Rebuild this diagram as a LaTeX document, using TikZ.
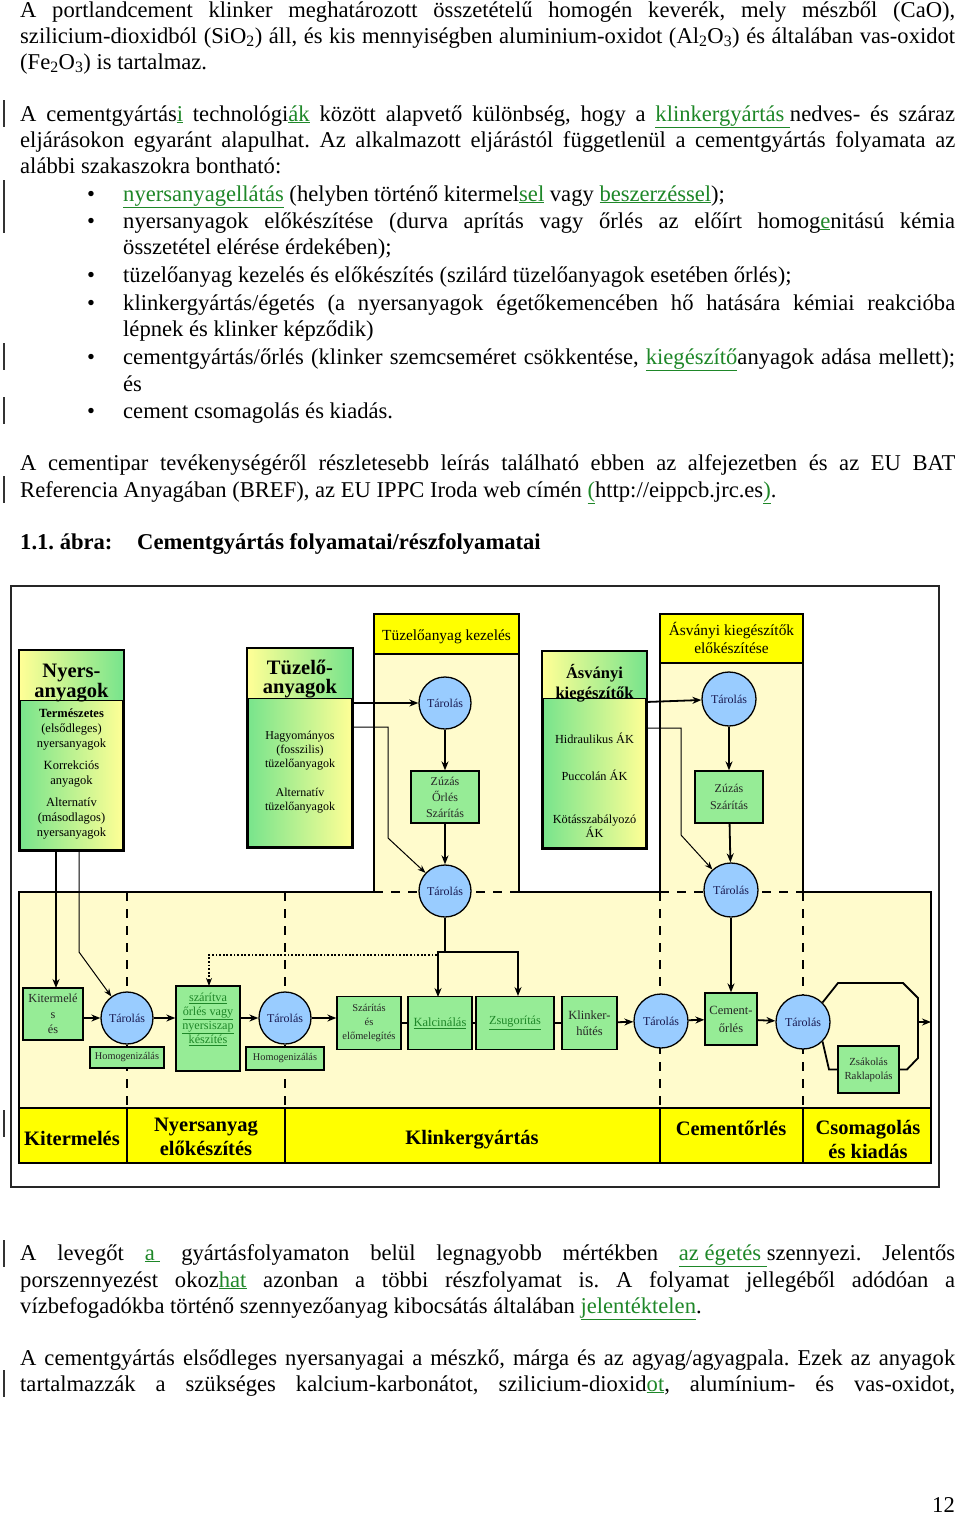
\documentclass[tikz,border=0pt]{standalone}
\usepackage{fontspec}
\setmainfont{Liberation Serif}
\usetikzlibrary{arrows.meta}
\definecolor{lnkg}{RGB}{30,135,40}
\definecolor{lyel}{RGB}{255,251,204}
\definecolor{hyel}{RGB}{255,255,0}
\definecolor{cblue}{RGB}{153,204,255}
\definecolor{bgreen}{RGB}{150,236,150}
\definecolor{gyel}{RGB}{255,255,150}
\definecolor{ggreen}{RGB}{120,228,140}
\definecolor{navy}{RGB}{25,25,80}
\newcommand{\fsz}[2]{\fontsize{#1}{#2}\selectfont}
\newcommand{\lnk}[1]{\textcolor{lnkg}{\underline{#1}}}
\frenchspacing
\tikzset{
 txt/.style={inner sep=0pt,anchor=base west,font=\fsz{22.6}{26}},
 circ/.style={circle,draw,line width=1.3pt,fill=cblue,minimum size=52pt,inner sep=0pt,font=\fsz{12}{14},text=navy},
 gbox/.style={draw,line width=1.3pt,fill=bgreen,inner sep=0pt,align=center,text=black!85},
 gradbox/.style={draw,line width=2.4pt,inner sep=0pt,left color=ggreen,right color=gyel},
 arr/.style={line width=1.8pt,-{Stealth[length=9pt,width=7pt]}},
 tarr/.style={line width=1pt,-{Stealth[length=8pt,width=6pt]}},
 thl/.style={line width=1.8pt},
 dsh/.style={line width=2.4pt,dash pattern=on 9pt off 8pt},
 dotln/.style={line width=1.8pt,dash pattern=on 1.8pt off 1.8pt},
 outerfr/.style={line width=2.8pt,black!85},
 bandtx/.style={font=\bfseries\fsz{20.5}{24},align=center,inner sep=0pt},
 chbar/.style={line width=1.2pt,black!80},
 smtx/.style={inner sep=0pt,align=center},
}
\begin{document}
\begin{tikzpicture}[x=1pt,y=-1pt]
\useasboundingbox (0,0) rectangle (960,1515);
\fill[white] (0,0) rectangle (960,1515);

% ---------- text above ----------
\node[txt] (p1) at (20,17) {\makebox[935pt][s]{A portlandcement klinker meghatározott összetételű homogén keverék, mely mészből (CaO),}};
\node[txt] (p2) at (20,43) {\makebox[935pt][s]{szilicium-dioxidból (SiO\textsubscript{2}) áll, és kis mennyiségben aluminium-oxidot (Al\textsubscript{2}O\textsubscript{3}) és általában vas-oxidot}};
\node[txt] (p3) at (20,69) {(Fe\textsubscript{2}O\textsubscript{3}) is tartalmaz.};
\node[txt] (p4) at (20,121) {\makebox[935pt][s]{A cementgyártás\lnk{i} technológi\lnk{ák} között alapvető különbség, hogy a \lnk{klinkergyártás\ }nedves- és száraz}};
\node[txt] (p5) at (20,147) {\makebox[935pt][s]{eljárásokon egyaránt alapulhat. Az alkalmazott eljárástól függetlenül a cementgyártás folyamata az}};
\node[txt] (p6) at (20,173) {alábbi szakaszokra bontható:};
\node[txt,anchor=base] (d1) at (91,201) {•};
\node[txt] (q1) at (123,201) {\lnk{nyersanyagellátás} (helyben történő kitermel\lnk{sel} vagy \lnk{beszerzéssel});};
\node[txt,anchor=base] (d2) at (91,228) {•};
\node[txt] (q2) at (123,228) {\makebox[832pt][s]{nyersanyagok előkészítése (durva aprítás vagy őrlés az előírt homog\lnk{e}nitású kémia}};
\node[txt] (q2b) at (123,254) {összetétel elérése érdekében);};
\node[txt,anchor=base] (d3) at (91,282) {•};
\node[txt] (q3) at (123,282) {tüzelőanyag kezelés és előkészítés (szilárd tüzelőanyagok esetében őrlés);};
\node[txt,anchor=base] (d4) at (91,310) {•};
\node[txt] (q4) at (123,310) {\makebox[832pt][s]{klinkergyártás/égetés (a nyersanyagok égetőkemencében hő hatására kémiai reakcióba}};
\node[txt] (q4b) at (123,336) {lépnek és klinker képződik)};
\node[txt,anchor=base] (d5) at (91,364) {•};
\node[txt] (q5) at (123,364) {\makebox[832pt][s]{cementgyártás/őrlés (klinker szemcseméret csökkentése, \lnk{kiegészítő}anyagok adása mellett);}};
\node[txt] (q5b) at (123,391) {és};
\node[txt,anchor=base] (d6) at (91,418) {•};
\node[txt] (q6) at (123,418) {cement csomagolás és kiadás.};
\node[txt] (p7) at (20,470) {\makebox[935pt][s]{A cementipar tevékenységéről részletesebb leírás található ebben az alfejezetben és az EU BAT}};
\node[txt] (p8) at (20,497) {Referencia Anyagában (BREF), az EU IPPC Iroda web címén \lnk{(}http://eippcb.jrc.es\lnk{)}.};
\node[txt,font=\bfseries\fsz{22.6}{26}] (fg1) at (20,549) {1.1. ábra:};
\node[txt,font=\bfseries\fsz{22.6}{26}] (fg2) at (137,549) {Cementgyártás folyamatai/részfolyamatai};

% ---------- text below ----------
\node[txt] (r1) at (20,1260) {\makebox[935pt][s]{A levegőt \lnk{a\ } gyártásfolyamaton belül legnagyobb mértékben \lnk{az égetés\ }szennyezi. Jelentős}};
\node[txt] (r2) at (20,1287) {\makebox[935pt][s]{porszennyezést okoz\lnk{hat} azonban a többi részfolyamat is. A folyamat jellegéből adódóan a}};
\node[txt] (r3) at (20,1313) {vízbefogadókba történő szennyezőanyag kibocsátás általában \lnk{jelentéktelen}.};
\node[txt] (r4) at (20,1365) {\makebox[935pt][s]{A cementgyártás elsődleges nyersanyagai a mészkő, márga és az agyag/agyagpala. Ezek az anyagok}};
\node[txt] (r5) at (20,1391) {\makebox[935pt][s]{tartalmazzák a szükséges kalcium-karbonátot, szilicium-dioxid\lnk{ot}, alumínium- és vas-oxidot,}};
\node[txt,anchor=base east] (pg) at (955,1512) {12};

% change bars
\foreach \a/\b in {100/127,180/233,343/370,397/424,476/503,1110/1137,1240/1267,1370/1397}
  \draw[chbar] (4,\a) -- (4,\b);

% ---------- diagram background ----------
\fill[lyel] (19,892) -- (374,892) -- (374,614) -- (519,614) -- (519,892) -- (660,892) -- (660,614) -- (803,614) -- (803,892) -- (931,892) -- (931,1108) -- (19,1108) -- cycle;
\fill[hyel] (19,1108) rectangle (931,1163);
% dashed separators
\draw[dsh] (374,892) -- (519,892);
\draw[dsh] (660,892) -- (803,892);
\foreach \xx in {127,285,660,803} \draw[dsh] (\xx,892) -- (\xx,1108);
% solid borders
\draw[line width=2.4pt] (19,1163) -- (19,892) -- (374,892) -- (374,614) -- (519,614) -- (519,892) -- (660,892) -- (660,614) -- (803,614) -- (803,892) -- (931,892) -- (931,1163);
\draw[line width=2.6pt] (19,1108) rectangle (931,1163);
\foreach \xx in {127,285,660,803} \draw[line width=2.6pt] (\xx,1108) -- (\xx,1163);

% column headers
\node[draw,line width=2pt,fill=hyel,minimum width=145pt,minimum height=40pt,inner sep=0pt] (h1) at (446.5,634) {};
\node[smtx,font=\fsz{15.4}{18}] (h1t) at (446.5,637) {Tüzelőanyag kezelés};
\node[draw,line width=2pt,fill=hyel,minimum width=143pt,minimum height=49pt,inner sep=0pt] (h2) at (731.5,638.5) {};
\node[smtx,font=\fsz{15.4}{18}] (h2t) at (731.5,638) {Ásványi kiegészítők\\előkészítése};

% band labels
\node[bandtx] (bk1) at (72,1138) {Kitermelés};
\node[bandtx] (bk2) at (206,1137) {Nyersanyag\\előkészítés};
\node[bandtx] (bk3) at (472,1140) {Klinkergyártás};
\node[bandtx] (bk4) at (731,1128) {Cementőrlés};
\node[bandtx] (bk5) at (868,1139) {Csomagolás\\és kiadás};

% ---------- gradient input boxes ----------
\node[gradbox,minimum width=103pt,minimum height=199pt] (nyr) at (71.5,750.5) {};
\shade[left color=gyel,right color=ggreen] (20,651) rectangle (123,700);
\draw[line width=0.8pt] (20,700) -- (123,700);
\draw[line width=2.4pt] (nyr.north west) rectangle (nyr.south east);
\node[smtx,font=\bfseries\fsz{20.5}{20}] (nyrh) at (71.5,683) {Nyers-\\anyagok};
\node[smtx,font=\fsz{12.5}{15}] (nyrb) at (71.5,774) {\textbf{Természetes}\\(elsődleges)\\nyersanyagok\\[7pt]Korrekciós\\anyagok\\[7pt]Alternatív\\(másodlagos)\\nyersanyagok};

\node[gradbox,minimum width=104pt,minimum height=198pt] (tuz) at (300,748) {};
\shade[left color=gyel,right color=ggreen] (248,649) rectangle (352,698);
\draw[line width=0.8pt] (248,698) -- (352,698);
\draw[line width=2.4pt] (tuz.north west) rectangle (tuz.south east);
\node[smtx,font=\bfseries\fsz{20.5}{19}] (tuzh) at (300,679) {Tüzelő-\\anyagok};
\node[smtx,font=\fsz{12}{14}] (tuzb) at (300,772) {Hagyományos\\(fosszilis)\\tüzelőanyagok\\[15pt]Alternatív\\tüzelőanyagok};

\node[gradbox,minimum width=103pt,minimum height=196pt] (asv) at (594.5,750) {};
\shade[left color=gyel,right color=ggreen] (543,652) rectangle (646,698);
\draw[line width=0.8pt] (543,698) -- (646,698);
\draw[line width=2.4pt] (asv.north west) rectangle (asv.south east);
\node[smtx,font=\bfseries\fsz{16.5}{20}] (asvh) at (594.5,683) {Ásványi\\kiegészítők};
\node[smtx,font=\fsz{12.3}{14}] (asv1) at (594.5,738) {Hidraulikus ÁK};
\node[smtx,font=\fsz{12.3}{14}] (asv2) at (594.5,775) {Puccolán ÁK};
\node[smtx,font=\fsz{12.3}{14}] (asv3) at (594.5,826) {Kötásszabályozó\\ÁK};

% ---------- process nodes ----------
\node[circ] (t1) at (445,703) {Tárolás};
\node[gbox,minimum width=68pt,minimum height=52pt,font=\fsz{12}{16}] (zuz1) at (445,797) {Zúzás\\Őrlés\\Szárítás};
\node[circ] (b1) at (445,891) {Tárolás};
\node[circ,minimum size=54pt] (t2) at (729,699) {Tárolás};
\node[gbox,minimum width=68pt,minimum height=52pt,font=\fsz{12}{17}] (zuz2) at (729,797) {Zúzás\\Szárítás};
\node[circ,minimum size=54pt] (b2) at (731,890) {Tárolás};

\node[gbox,minimum width=60pt,minimum height=52pt,font=\fsz{12.3}{15.5}] (kit) at (53,1014) {Kitermelé\\s\\és};
\node[circ] (c1) at (127,1018) {Tárolás};
\node[gbox,minimum width=74pt,minimum height=21pt,font=\fsz{10.3}{12}] (hom1) at (127,1057.5) {Homogenizálás};
\node[gbox,minimum width=64pt,minimum height=85pt] (szar) at (208,1028.5) {};
\node[smtx,font=\fsz{12.2}{14},text=lnkg] (szartx) at (208,1019) {\underline{szárítva}\\\underline{őrlés vagy}\\\underline{nyersiszap}\\\underline{készítés}};
\node[circ] (c2) at (285,1018) {Tárolás};
\node[gbox,minimum width=78pt,minimum height=23pt,font=\fsz{10.3}{12}] (hom2) at (285,1058.5) {Homogenizálás};
\node[gbox,minimum width=64pt,minimum height=53pt,font=\fsz{10.5}{14}] (szel) at (369,1023) {Szárítás\\és\\előmelegítés};
\node[gbox,minimum width=64pt,minimum height=53pt,font=\fsz{12.5}{15}] (kalc) at (440,1023) {\lnk{Kalcinálás}};
\node[gbox,minimum width=78pt,minimum height=53pt,font=\fsz{12.3}{15}] (zsug) at (515,1023) {\lnk{Zsugorítás}};
\node[gbox,minimum width=55pt,minimum height=53pt,font=\fsz{12.5}{16}] (klink) at (589.5,1023) {Klinker-\\hűtés};
\node[circ,minimum size=54pt] (c3) at (661,1021) {Tárolás};
\node[gbox,minimum width=52pt,minimum height=52pt,font=\fsz{12.5}{18}] (cem) at (731,1019) {Cement-\\őrlés};
\node[circ,minimum size=54pt] (c4) at (803,1022) {Tárolás};
\node[gbox,minimum width=61pt,minimum height=47pt,font=\fsz{10.8}{14}] (zs) at (868.5,1069.5) {Zsákolás\\Raklapolás};

% ---------- connectors ----------
\coordinate (jn) at (445,952);
\draw[arr] (352,703) -- (t1);
\draw[tarr] (352,727) -- (388,727) -- (388,838) -- (b1);
\draw[arr] (t1) -- (zuz1);
\draw[arr] (zuz1) -- (b1);
\draw[arr] (646,702) -- (t2);
\draw[tarr] (646,728) -- (681,728) -- (681,835) -- (b2);
\draw[arr] (t2) -- (zuz2);
\draw[arr] (zuz2) -- (b2);
\draw[arr] (56,850) -- (56,988);
\draw[tarr] (79,850) -- (79,952) -- (c1);
\draw[arr] (kit.east |- c1) -- (c1.west);
\draw[arr] (c1.east) -- (c1.east -| szar.west);
\draw[arr] (szar.east |- c2) -- (c2.west);
\draw[arr] (c2.east) -- (c2.east -| szel.west);
\draw[thl] (szel) -- (kalc);
\draw[thl] (kalc) -- (zsug);
\draw[thl] (zsug) -- (klink);
\draw[arr] (klink) -- (c3);
\draw[arr] (c3) -- (cem);
\draw[arr] (cem) -- (c4);
\draw[thl] (b1) -- (jn);
\draw[arr] (jn) -- (438,952) -- (438,997);
\draw[arr] (jn) -- (518,952) -- (518,996);
\draw[dotln,-{Stealth[length=8pt,width=6pt]}] (437,955) -- (209,955) -- (209,986);
\draw[arr] (b2) -- (cem);
\draw[thl] (c4.north east) -- (838,983) -- (903,983) -- (918,998) -- (918,1058) -- (907,1069.5) -- (zs.east);
\draw[thl] (c4.south east) -- (829,1069.5) -- (zs.west);
\coordinate (ex1) at (918,1022);
\coordinate (ex2) at (931,1022);
\draw[arr] (ex1) -- (ex2);

% outer frame
\draw[outerfr] (11,586) rectangle (939,1187);
\end{tikzpicture}
\end{document}
